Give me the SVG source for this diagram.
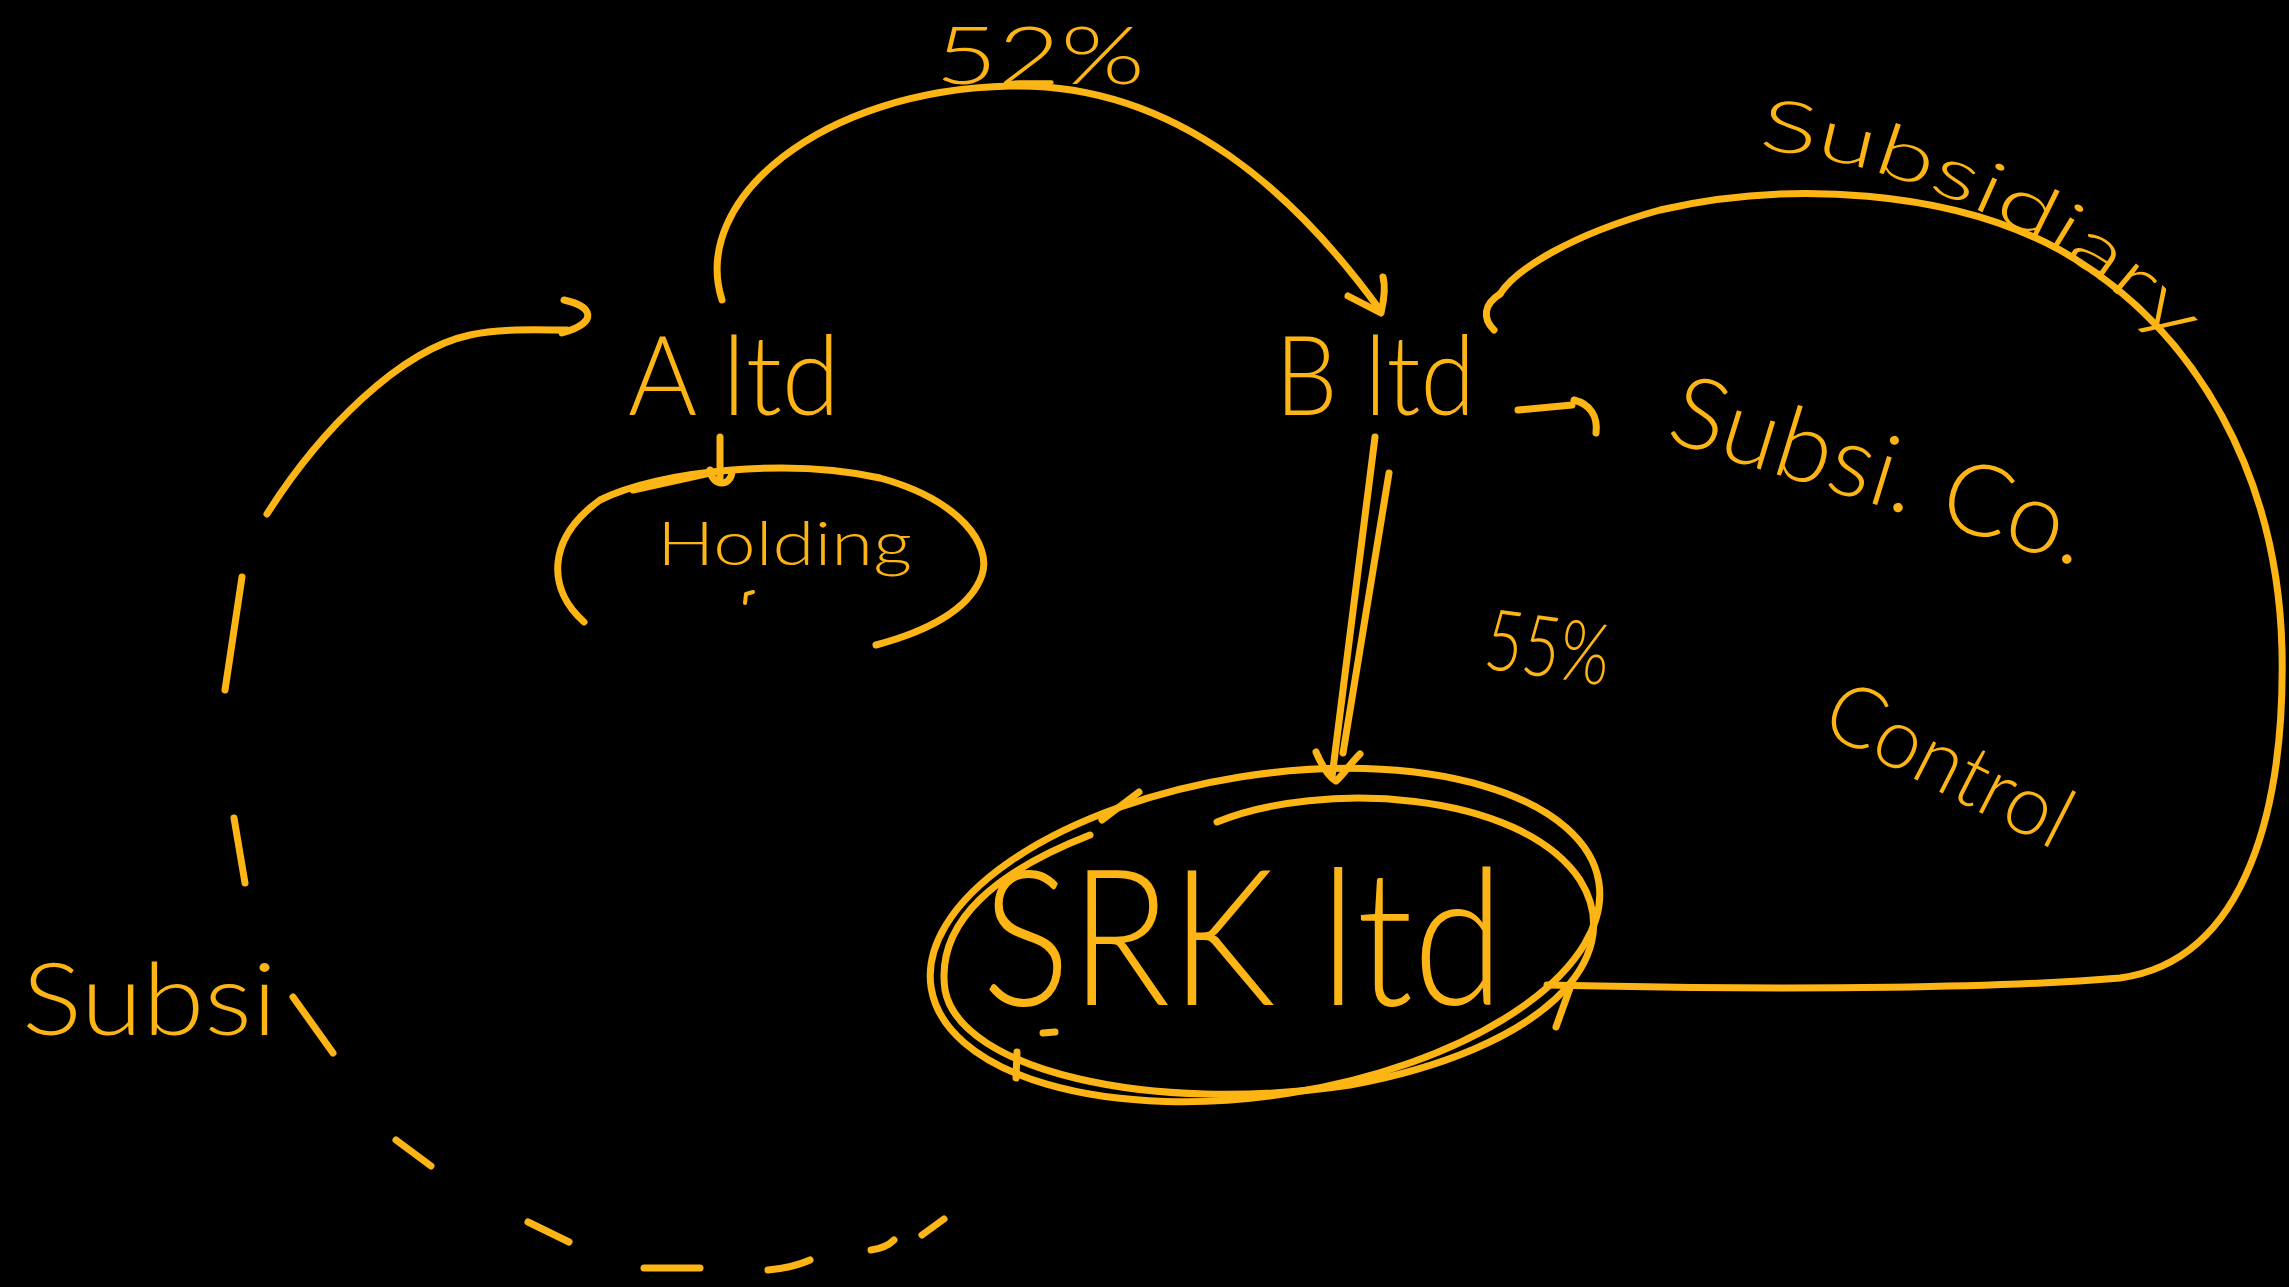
<svg xmlns="http://www.w3.org/2000/svg" width="2289" height="1287" viewBox="0 0 2289 1287">
<defs>
<style>
.ink{fill:none;stroke:#FDB515;stroke-width:7;stroke-linecap:round;stroke-linejoin:round}
.t{fill:#FDB515;font-family:Lato,"Liberation Sans",sans-serif;font-weight:300}
</style>
<path id="subpath" d="M 1758 150 C 1840 155, 1930 185, 2020 230 C 2080 262, 2130 300, 2178 352"/>
</defs>
<rect width="2289" height="1287" fill="#000"/>

<g id="connectors">
  <!-- A ltd to B ltd (52%) -->
  <path class="ink" d="M 722 300 C 690 200, 820 90, 1010 86 C 1180 82, 1300 200, 1380 310"/>
  <path class="ink" d="M 1348 296 L 1381 313 C 1384 300, 1386 288, 1383 277"/>
  <!-- B ltd to SRK ltd -->
  <path class="ink" d="M 1375 437 L 1332 777"/>
  <path class="ink" d="M 1389 473 L 1343 753"/>
  <path class="ink" d="M 1316 752 C 1322 766, 1330 778, 1336 781 C 1342 776, 1350 764, 1360 754"/>
  <!-- SRK ltd to B ltd (Subsidiary) -->
  <path class="ink" d="M 1547 985 L 1600 986 C 1800 990, 2000 988, 2120 978 C 2250 960, 2285 800, 2282 650 C 2278 480, 2200 330, 2060 250 C 1950 190, 1790 180, 1660 210 C 1570 235, 1515 270, 1500 294"/>
  <path class="ink" d="M 1500 294 C 1484 304, 1482 318, 1494 330"/>
  <path class="ink" d="M 1570 988 L 1556 1027"/>
  <!-- Subsi arrow to A ltd -->
  <path class="ink" d="M 267 514 C 320 430, 400 350, 470 335 C 500 328, 540 330, 567 330"/>
  <path class="ink" d="M 564 300 C 592 306, 600 322, 562 333"/>
  <!-- dashed return from SRK ltd -->
  <path class="ink" d="M 242 577 L 225 690"/>
  <path class="ink" d="M 234 818 L 245 883"/>
  <path class="ink" d="M 293 997 L 333 1053"/>
  <path class="ink" d="M 396 1140 L 431 1166"/>
  <path class="ink" d="M 528 1222 L 569 1242"/>
  <path class="ink" d="M 644 1268 L 700 1268"/>
  <path class="ink" d="M 768 1270 Q 792 1268 810 1260"/>
  <path class="ink" d="M 871 1250 Q 886 1248 894 1240"/>
  <path class="ink" d="M 922 1235 L 944 1219"/>
  <!-- B ltd arrow to Subsi. Co. -->
  <path class="ink" d="M 1518 410 L 1572 405"/>
  <path class="ink" d="M 1574 400 C 1590 404, 1598 416, 1596 433"/>
</g>

<g id="node-a">
  <text class="t" x="628" y="415" font-size="110" textLength="212" lengthAdjust="spacingAndGlyphs">A ltd</text>
  <path class="ink" d="M 720 437 L 720 478 M 710 470 C 712 486, 730 488, 732 472"/>
</g>

<g id="node-holding">
  <path class="ink" d="M 584 622 C 548 590, 545 540, 600 500 C 660 470, 790 458, 880 478 C 960 500, 992 545, 982 575 C 970 610, 925 632, 876 645"/>
  <path class="ink" d="M 633 490 L 710 473"/>
  <text class="t" x="657" y="565" font-size="62" textLength="255" lengthAdjust="spacingAndGlyphs">Holding</text>
  <path class="ink" d="M 745 603 L 746 594 L 753 592" style="stroke-width:4"/>
</g>

<g id="node-b">
  <text class="t" x="1275" y="415" font-size="110" textLength="200" lengthAdjust="spacingAndGlyphs">B ltd</text>
</g>

<g id="node-srk">
  <ellipse class="ink" cx="1265" cy="935" rx="338" ry="160" transform="rotate(-9 1265 935)"/>
  <path class="ink" d="M 1217 822 C 1320 780, 1520 790, 1580 880 C 1630 960, 1540 1050, 1350 1085 C 1150 1115, 960 1070, 945 990 C 935 920, 1000 870, 1090 835"/>
  <path class="ink" d="M 1102 820 L 1139 792"/>
  <path class="ink" d="M 1043 1033 L 1055 1032"/>
  <path class="ink" d="M 1017 1052 L 1016 1078"/>
  <text class="t" x="982" y="1005" font-size="190" textLength="522" lengthAdjust="spacingAndGlyphs">SRK ltd</text>
</g>

<g id="labels">
  <text class="t" x="935" y="84" font-size="80" textLength="210" lengthAdjust="spacingAndGlyphs">52%</text>
  <text class="t" font-size="72"><textPath href="#subpath" textLength="470" lengthAdjust="spacingAndGlyphs">Subsidiary</textPath></text>
  <text class="t" x="1664" y="440" font-size="100" textLength="432" lengthAdjust="spacingAndGlyphs" transform="rotate(17 1664 440)">Subsi. Co.</text>
  <text class="t" x="1482" y="668" font-size="85" textLength="125" lengthAdjust="spacingAndGlyphs" transform="rotate(8 1482 668)">55%</text>
  <text class="t" x="1818" y="730" font-size="85" textLength="265" lengthAdjust="spacingAndGlyphs" transform="rotate(27 1818 730)">Control</text>
  <text class="t" x="22" y="1035" font-size="100" textLength="255" lengthAdjust="spacingAndGlyphs">Subsi</text>
</g>
</svg>
